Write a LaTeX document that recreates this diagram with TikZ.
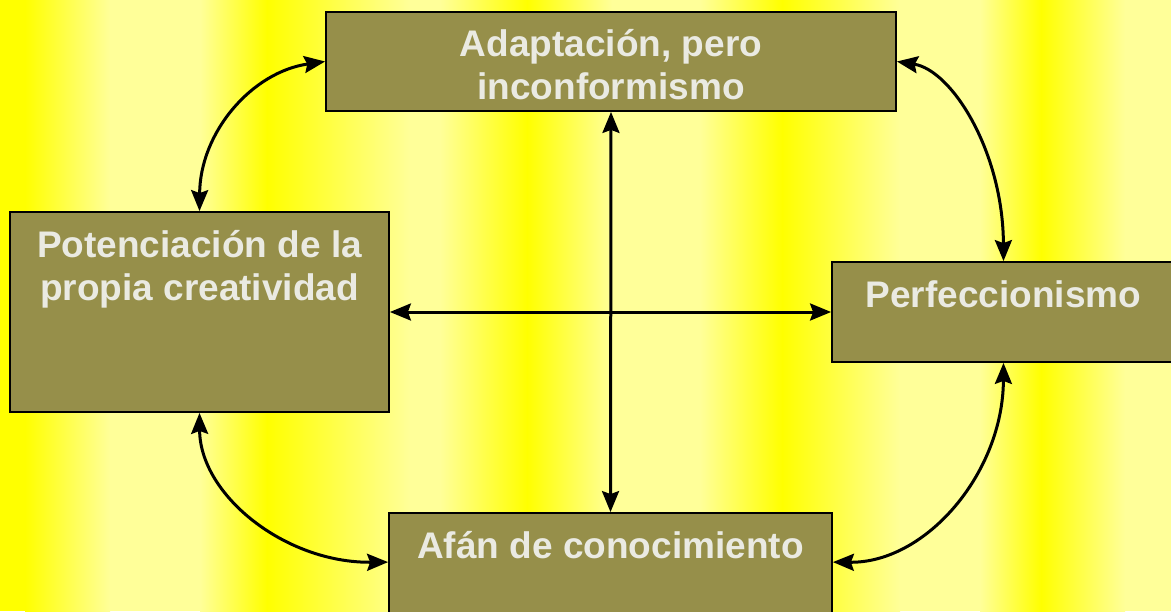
\documentclass[tikz,border=0pt]{standalone}
\usepackage{fontspec}
\setmainfont{Liberation Sans}
\usetikzlibrary{arrows.meta}
\definecolor{bright}{RGB}{255,255,0}
\definecolor{light}{RGB}{255,255,153}
\definecolor{boxfill}{RGB}{150,143,74}
\definecolor{txt}{RGB}{234,234,226}
\begin{document}
\begin{tikzpicture}[x=1pt,y=-1pt,
  box/.style={draw=black, line width=1.8pt, fill=boxfill, inner sep=0pt},
  lbl/.style={text=txt, font=\fontsize{37}{43}\selectfont\bfseries, align=center, inner sep=0pt, anchor=north},
  tip/.style={Stealth[length=21pt,width=17pt,inset=3pt]},
  link/.style={line width=3pt, {Stealth[length=21pt,width=17pt,inset=3pt]}-{Stealth[length=21pt,width=17pt,inset=3pt]}}]
\useasboundingbox (0,0) rectangle (1171,611);
\clip (0,0) rectangle (1171,611);
% background stripes
\fill[bright] (0,0) rectangle (25,611);
\shade[left color=bright,right color=light] (25,0) rectangle (110,611);
\fill[light] (110,0) rectangle (200,611);
\shade[left color=light,right color=bright] (200,0) rectangle (267,611);
\shade[left color=bright,right color=light] (267,0) rectangle (410,611);
\fill[light] (410,0) rectangle (440,611);
\shade[left color=light,right color=bright] (440,0) rectangle (527,611);
\shade[left color=bright,right color=light] (527,0) rectangle (612,611);
\fill[light] (612,0) rectangle (700,611);
\shade[left color=light,right color=bright] (700,0) rectangle (782,611);
\shade[left color=bright,right color=light] (782,0) rectangle (900,611);
\fill[light] (900,0) rectangle (980,611);
\shade[left color=light,right color=bright] (980,0) rectangle (1041,611);
\shade[left color=bright,right color=light] (1041,0) rectangle (1125,611);
\fill[light] (1125,0) rectangle (1172,611);
% boxes
\node[box, minimum width=570pt, minimum height=99pt] (top) at (611,61.5) {};
\node[box, minimum width=379pt, minimum height=200pt] (left) at (199.5,312) {};
\node[box, minimum width=343pt, minimum height=100pt] (right) at (1003.5,312) {};
\node[box, minimum width=443pt, minimum height=137pt] (bottom) at (610.5,581.5) {};
% texts
\node[lbl] (ttop) at ([yshift=-18pt]top.north) {Adaptación, pero\\inconformismo};
\node[lbl] (tleft) at ([yshift=-19pt]left.north) {Potenciación de la\\propia creatividad};
\node[lbl] (tright) at ([yshift=-19pt]right.north) {Perfeccionismo};
\node[lbl] (tbottom) at ([yshift=-19pt]bottom.north) {Afán de conocimiento};
% connectors
\coordinate (bl) at ([yshift=-50pt]bottom.north west);
\coordinate (br) at ([yshift=-50pt]bottom.north east);
\draw[link] (top.south) -- (bottom.north);
\draw[link] (left.east) -- (right.west);
\draw[link] (left.north) .. controls (200,132) and (252,72) .. (top.west);
\draw[link] (top.east) .. controls (952,70) and (1003,152) .. (right.north);
\draw[link] (left.south) .. controls (200,495) and (285,563) .. (bl);
\draw[link] (right.south) .. controls (1003,473) and (926,563) .. (br);
\end{tikzpicture}
\end{document}
